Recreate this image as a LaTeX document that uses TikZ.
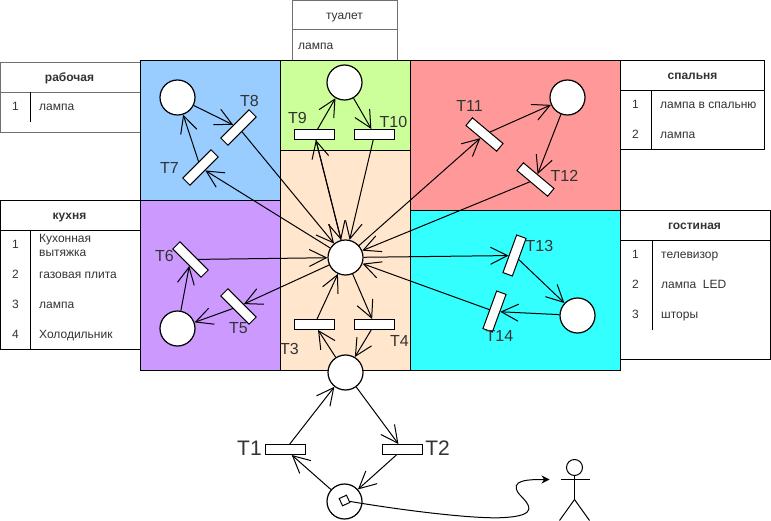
\documentclass[tikz,border=0pt]{standalone}
\usepackage{fontspec}
\setmainfont{Liberation Sans}
\usetikzlibrary{arrows.meta,shapes.geometric}
\definecolor{bluer}{HTML}{99CCFF}
\definecolor{greenr}{HTML}{CCFF99}
\definecolor{oranger}{HTML}{FFE6CC}
\definecolor{redr}{HTML}{FF9999}
\definecolor{cyanr}{HTML}{33FFFF}
\definecolor{purpler}{HTML}{CC99FF}
\definecolor{inkt}{HTML}{333333}
\definecolor{edgeg}{HTML}{707070}
\tikzset{
  room/.style={draw=black,line width=1pt},
  tbl/.style={draw=black,line width=1pt},
  tblg/.style={draw=edgeg,line width=1pt},
  placec/.style={circle,draw=black,fill=white,line width=1.2pt,minimum size=35pt,inner sep=0pt},
  gate/.style={rectangle,draw=black,fill=white,line width=1pt,minimum width=40pt,minimum height=10pt,inner sep=0pt},
  tlab/.style={font=\fontsize{16pt}{16pt}\selectfont,text=inkt,inner sep=0pt},
  biglab/.style={font=\fontsize{21pt}{21pt}\selectfont,text=inkt,inner sep=0pt},
  head/.style={font=\fontsize{12pt}{12pt}\selectfont\bfseries,text=inkt,inner sep=0pt,text height=10pt,text depth=2pt},
  cell/.style={font=\fontsize{12pt}{14pt}\selectfont,text=inkt,inner sep=0pt,anchor=west,xshift=.5pt,text height=10pt,text depth=2pt},
  cellm/.style={font=\fontsize{12pt}{14pt}\selectfont,text=inkt,inner sep=0pt,anchor=west,xshift=.5pt,align=left},
  num/.style={font=\fontsize{12pt}{12pt}\selectfont,text=inkt,inner sep=0pt,text height=10pt,text depth=2pt},
  link/.style={-{Straight Barb[length=17pt,width=17pt]},line width=1pt},
}
\begin{document}
\begin{tikzpicture}[x=1pt,y=-1pt]
    \useasboundingbox (0.5,0.5) rectangle (771.5,521.5);

    % tables
    \draw[tblg,fill=white] (293,1) rectangle (398,61);
    \draw[tblg] (293,30) -- (398,30);
    \node[num] (tualethead) at (345,16) {туалет};
    \node[cell] (tualet1) at (298,46) {лампа};

    \draw[tblg] (141,63) -- (1,63) -- (1,133) -- (141,133);
    \draw[tblg] (1,93) -- (141,93);
    \draw[tbl] (31,93) -- (31,123);
    \node[head] (workhead) at (70,78) {рабочая};
    \node[num] (worknum1) at (16,107) {1};
    \node[cell] (work1) at (39,107) {лампа};

    \draw[tbl] (141,201) -- (1,201) -- (1,350) -- (141,350);
    \draw[tbl] (1,231) -- (141,231);
    \draw[tbl] (31,231) -- (31,350);
    \node[head] (kitchenhead) at (70,216) {кухня};
    \node[num] (kitchennum1) at (16,245) {1};
    \node[cellm] (kitchen1) at (39,246) {Кухонная\\вытяжка};
    \node[num] (kitchennum2) at (16,275) {2};
    \node[cell] (kitchen2) at (39,275) {газовая плита};
    \node[num] (kitchennum3) at (16,305) {3};
    \node[cell] (kitchen3) at (39,305) {лампа};
    \node[num] (kitchennum4) at (16,335) {4};
    \node[cell] (kitchen4) at (39,335) {Холодильник};

    \draw[tbl] (621,61) -- (765,61) -- (765,150) -- (621,150);
    \draw[tbl] (621,91) -- (765,91);
    \draw[tbl] (652,91) -- (652,150);
    \node[head] (bedhead) at (693,76) {спальня};
    \node[num] (bednum1) at (636,105) {1};
    \node[cell] (bed1) at (660,105) {лампа в спальню};
    \node[num] (bednum2) at (636,135) {2};
    \node[cell] (bed2) at (660,135) {лампа};

    \draw[tbl] (621,211) -- (771,211) -- (771,360) -- (621,360);
    \draw[tbl] (621,241) -- (771,241);
    \draw[tbl] (653,241) -- (653,330);
    \node[head] (livinghead) at (695,226) {гостиная};
    \node[num] (livingnum1) at (636,255) {1};
    \node[cell] (living1) at (661,255) {телевизор};
    \node[num] (livingnum2) at (636,285) {2};
    \node[cell] (living2) at (661,285) {лампа~~LED};
    \node[num] (livingnum3) at (636,315) {3};
    \node[cell] (living3) at (661,315) {шторы};

    % rooms
    \draw[room,fill=bluer] (141,61) rectangle (281,201);
    \draw[room,fill=greenr] (281,61) rectangle (411,151);
    \draw[room,fill=oranger] (281,151) rectangle (411,371);
    \draw[room,fill=redr] (411,61) rectangle (621,211);
    \draw[room,fill=cyanr] (411,211) rectangle (621,371);
    \draw[room,fill=purpler] (141,201) rectangle (281,371);

    % places
    \node[placec] (pwork) at (178,98) {};
    \node[placec] (pbath) at (345,83) {};
    \node[placec] (pbed) at (568,98) {};
    \node[placec] (pliving) at (578,316) {};
    \node[placec] (pkitchen) at (178,329) {};
    \node[placec] (pcenter) at (346,258) {};
    \node[placec] (plower) at (346,373) {};
    \node[placec] (pstart) at (345,502) {};
    \node[rectangle,rotate=25,draw=black,fill=white,line width=1pt,minimum size=8pt,inner sep=0pt] (token) at (345,501) {};

    % transitions
    \node[gate] (t1) at (286,450) {};
    \node[gate] (t2) at (403,450) {};
    \node[gate] (t3) at (315,325) {};
    \node[gate] (t4) at (375,325) {};
    \node[gate,rotate=-45] (t5) at (239,307) {};
    \node[gate,rotate=-45] (t6) at (191,260) {};
    \node[gate,rotate=45] (t7) at (201,168) {};
    \node[gate,rotate=45] (t8) at (239,128) {};
    \node[gate] (t9) at (315,135) {};
    \node[gate] (t10) at (375,135) {};
    \node[gate,rotate=-40] (t11) at (485,135) {};
    \node[gate,rotate=-40] (t12) at (536,180) {};
    \node[gate,rotate=70] (t13) at (515,256) {};
    \node[gate,rotate=70] (t14) at (495,312) {};

    % connectors
    \foreach \from/\to in {pstart/t1,t1/plower,plower/t2,t2/pstart,plower/t3,t3/pcenter,pcenter/t4,t4/plower,
      pcenter/t5,t5/pkitchen,pkitchen/t6,t6/pcenter,pcenter/t7,t7/pwork,pwork/t8,t8/pcenter,
      t9/pbath,pbath/t10,t10/pcenter,pcenter/t11,t11/pbed,pbed/t12,t12/pcenter,
      pcenter/t13,t13/pliving,pliving/t14,t14/pcenter}
    \draw[link] (\from) -- (\to);
    \draw[link] (pcenter) -- (t9);
    \draw[link] (t9) -- (pcenter);

    % labels
    \node[biglab] (lt1) at (250,449) {T1};
    \node[biglab] (lt2) at (438,449) {T2};
    \node[tlab] (lt3) at (290,349) {T3};
    \node[tlab] (lt4) at (400,341) {T4};
    \node[tlab] (lt5) at (239,329) {T5};
    \node[tlab] (lt6) at (165,256) {T6};
    \node[tlab] (lt7) at (170,168) {T7};
    \node[tlab] (lt8) at (250,101) {T8};
    \node[tlab] (lt9) at (298,118) {T9};
    \node[tlab] (lt10) at (394,122) {T10};
    \node[tlab] (lt11) at (470,106) {T11};
    \node[tlab] (lt12) at (565,176) {T12};
    \node[tlab] (lt13) at (540,246) {T13};
    \node[tlab] (lt14) at (500,336) {T14};

    % person
    \node[circle,draw=black,fill=white,line width=1pt,minimum size=16pt,inner sep=0pt] (headp) at (575,468) {};
    \coordinate (hip) at (575,500);
    \coordinate (curveend) at (550,480);
    \draw[line width=1pt] (headp) -- (hip);
    \draw[line width=1pt] (561,480) -- (590,480);
    \draw[line width=1pt] (560,521) -- (hip) -- (590,521);

    \draw[line width=1pt,-{Stealth[length=8pt,width=8pt]}] (token) .. controls (410,512) and (480,520) .. (505,518)
      .. controls (540,516) and (530,505) .. (520,495)
      .. controls (508,480) and (530,480) .. (curveend);
\end{tikzpicture}
\end{document}
